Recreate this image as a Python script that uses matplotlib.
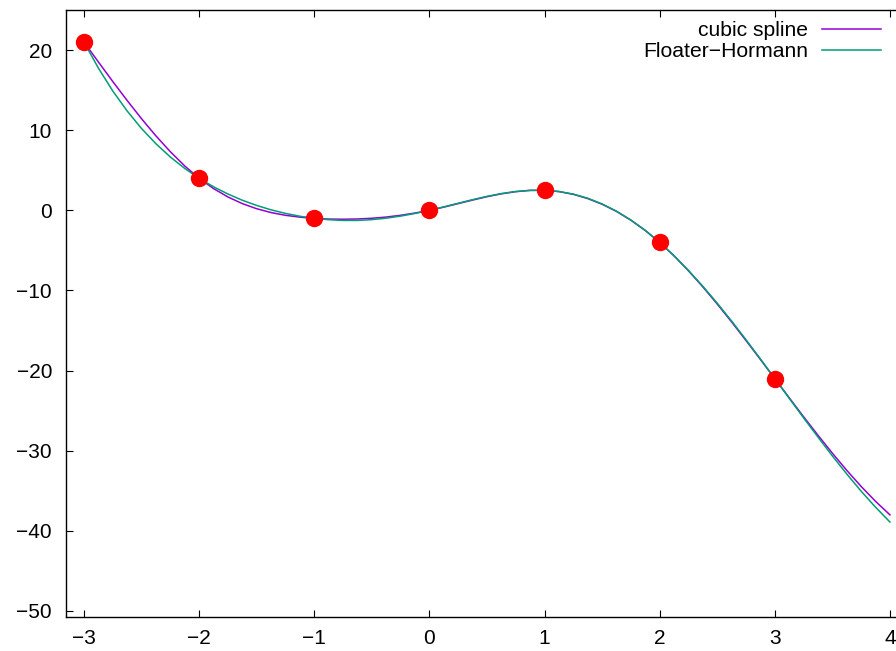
import matplotlib
matplotlib.use("Agg")
import matplotlib.pyplot as plt

# interpolation nodes
x_nodes = [-3, -2, -1, 0, 1, 2, 3]
y_nodes = [21, 4, -1, 0, 2.5, -4, -21]

x_curve = [-3, -2.875, -2.75, -2.625, -2.5, -2.375, -2.25, -2.125,
           -2, -1.875, -1.75, -1.625, -1.5, -1.375, -1.25, -1.125,
           -1, -0.875, -0.75, -0.625, -0.5, -0.375, -0.25, -0.125,
           0, 0.125, 0.25, 0.375, 0.5, 0.625, 0.75, 0.875,
           1, 1.125, 1.25, 1.375, 1.5, 1.625, 1.75, 1.875,
           2, 2.125, 2.25, 2.375, 2.5, 2.625, 2.75, 2.875,
           3, 3.125, 3.25, 3.375, 3.5, 3.625, 3.75, 3.875, 4]
y_spline = [21, 18.52, 16.08, 13.71, 11.43, 9.29, 7.32, 5.54,
            4, 2.72, 1.67, 0.84, 0.20, -0.28, -0.62, -0.85,
            -1, -1.09, -1.11, -1.08, -0.99, -0.84, -0.62, -0.34,
            0, 0.40, 0.84, 1.28, 1.70, 2.06, 2.33, 2.49,
            2.5, 2.34, 2.00, 1.47, 0.76, -0.13, -1.23, -2.51,
            -4, -5.68, -7.54, -9.55, -11.69, -13.93, -16.25, -18.61,
            -21, -23.39, -25.76, -28.07, -30.31, -32.45, -34.46, -36.32, -38.0]
y_fh = [21, 17.76, 14.90, 12.40, 10.21, 8.31, 6.66, 5.23,
        4, 2.94, 2.04, 1.26, 0.61, 0.06, -0.38, -0.74,
        -1, -1.17, -1.26, -1.26, -1.16, -0.98, -0.72, -0.39,
        0, 0.43, 0.88, 1.33, 1.74, 2.09, 2.35, 2.49,
        2.5, 2.35, 2.02, 1.51, 0.80, -0.11, -1.21, -2.51,
        -4, -5.67, -7.50, -9.48, -11.59, -13.82, -16.15, -18.55,
        -21, -23.45, -25.90, -28.30, -30.65, -32.90, -35.05, -37.05, -38.90]

x_ticks = [-3, -2, -1, 0, 1, 2, 3, 4]
y_ticks = [-50, -40, -30, -20, -10, 0, 10, 20]

plt.rcParams['font.family'] = ['Liberation Sans', 'DejaVu Sans']

fig = plt.figure(figsize=(8.96, 6.51), dpi=100)
ax = fig.add_axes([66/896, 34/651, 850/896, 607/651])

ax.plot(x_curve, y_spline, color='#9400d3', lw=1.1, label='cubic spline')
ax.plot(x_curve, y_fh, color='#009e73', lw=1.1, label='Floater\u2212Hormann')
ax.plot(x_nodes, y_nodes, 'o', color='#ff0000', ms=11.5, zorder=5)

ax.set_xlim(-3.156, -3.156 + 850/115.14)
ax.set_ylim(-50.75, 25)
ax.set_xticks(x_ticks)
ax.set_yticks(y_ticks)
ax.tick_params(direction='in', length=5, width=0.8, top=True, right=True,
               labelsize=15, colors='black')
ax.tick_params(axis='y', pad=10)
ax.tick_params(axis='x', pad=9)
for s in ax.spines.values():
    s.set_linewidth(1.0)

ax.legend(loc='upper right', bbox_to_anchor=(881/896, 1 - 21/651),
          bbox_transform=fig.transFigure, frameon=False, markerfirst=False,
          fontsize=15.2, handlelength=2.8, handletextpad=0.66,
          labelspacing=0.1, borderpad=0, borderaxespad=0)

fig.savefig('out.png', dpi=100)
